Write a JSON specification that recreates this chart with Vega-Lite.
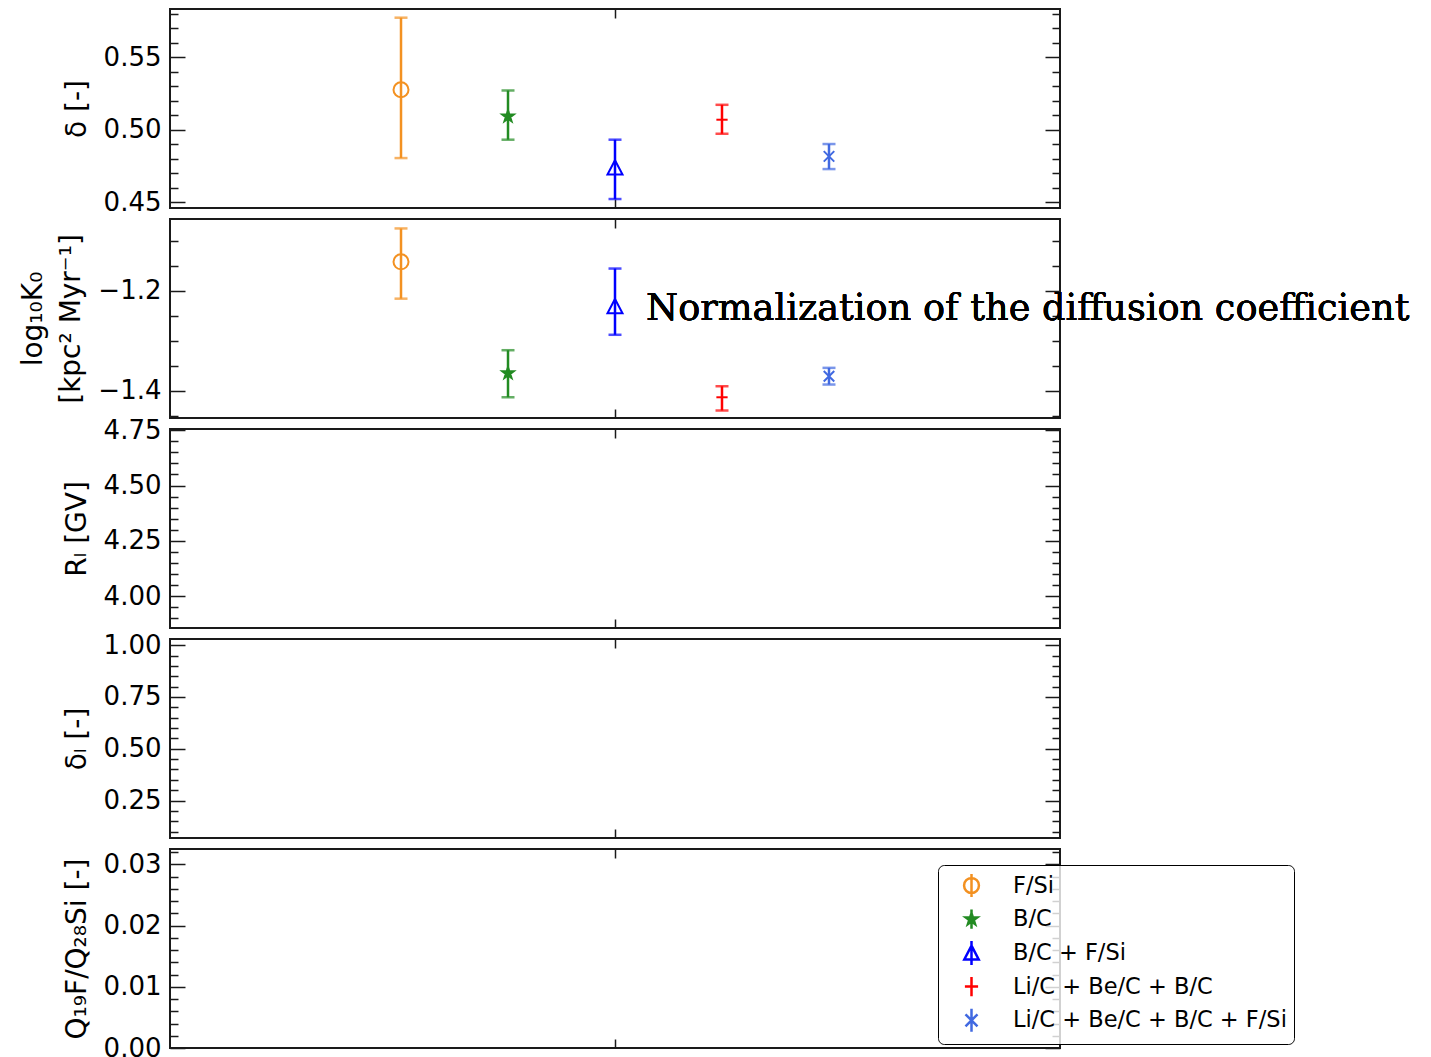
{
  "$schema": "https://vega.github.io/schema/vega-lite/v6.json",
  "autosize": {"type": "pad"},
  "padding": {"left": 18, "top": 7, "right": 5, "bottom": 0},
  "background": "white",
  "bounds": "flush",
  "spacing": 11,
  "datasets": {
    "pts": [
      {"series": "F/Si", "x": 1, "d": 0.5276, "dlo": 0.4804, "dhi": 0.5774, "k": -1.1424, "klo": -1.2161, "khi": -1.0755},
      {"series": "B/C", "x": 2, "d": 0.5092, "dlo": 0.4931, "dhi": 0.5271, "k": -1.3653, "klo": -1.4135, "khi": -1.3193},
      {"series": "B/C + F/Si", "x": 3, "d": 0.4740, "dlo": 0.4521, "dhi": 0.4931, "k": -1.2310, "klo": -1.2884, "khi": -1.1558},
      {"series": "Li/C + Be/C + B/C", "x": 4, "d": 0.5069, "dlo": 0.4972, "dhi": 0.5172, "k": -1.4135, "klo": -1.4400, "khi": -1.3914},
      {"series": "Li/C + Be/C + B/C + F/Si", "x": 5, "d": 0.4816, "dlo": 0.4728, "dhi": 0.4901, "k": -1.3713, "klo": -1.3880, "khi": -1.3546}
    ]
  },
  "config": {
    "view": {"stroke": "#1a1a1a", "strokeWidth": 2},
    "axis": {
      "grid": false, "domain": false, "labelFlush": false, "labelOverlap": false,
      "labelFont": "DejaVu Sans", "labelFontSize": 26, "labelColor": "#000",
      "titleFont": "DejaVu Sans", "titleFontSize": 28, "titleFontWeight": "normal", "titleColor": "#000",
      "tickColor": "#1a1a1a", "tickWidth": 1.5
    },
    "legend": {
      "orient": "none", "legendX": 768, "legendY": 16,
      "fillColor": "rgba(255,255,255,0.8)", "strokeColor": "#000", "cornerRadius": 6, "padding": 7,
      "symbolSize": 576, "symbolStrokeWidth": 2.5, "symbolOffset": 13, "symbolOpacity": 1,
      "labelFont": "DejaVu Sans", "labelFontSize": 22.5, "labelColor": "#000", "labelOffset": 28, "labelLimit": 500,
      "rowPadding": 0.7, "title": null
    }
  },
  "resolve": {
    "scale": {"stroke": "independent", "shape": "independent", "fill": "independent", "color": "independent"},
    "legend": {"stroke": "independent", "shape": "independent", "fill": "independent", "color": "independent"}
  },
  "vconcat": [
    {
      "width": 890, "height": 199,
      "data": {"name": "pts"},
      "resolve": {"axis": {"x": "independent", "y": "independent"}},
      "layer": [
        {
          "mark": {"type": "rule", "strokeWidth": 2.5, "strokeCap": "butt"},
          "encoding": {
            "x": {"field": "x", "type": "quantitative", "scale": {"domain": [-1.159, 7.159], "nice": false, "zero": false},
                  "axis": {"orient": "bottom", "values": [3], "labels": false, "title": null, "tickSize": -9}},
            "y": {"field": "dlo", "type": "quantitative", "scale": {"domain": [0.4459, 0.5834], "nice": false, "zero": false},
                  "axis": {"orient": "left", "values": [0.45, 0.5, 0.55], "format": ".2f", "title": "δ [-]", "tickSize": -15, "labelPadding": 24, "titlePadding": 12}},
            "y2": {"field": "dhi"},
            "stroke": {"field": "series", "type": "nominal", "legend": null,
                       "scale": {"domain": ["F/Si", "B/C", "B/C + F/Si", "Li/C + Be/C + B/C", "Li/C + Be/C + B/C + F/Si"], "range": ["#f39121", "#228b22", "#0000ff", "#ff0000", "#4169e1"]}}
          }
        },
        {
          "mark": {"type": "tick", "orient": "horizontal", "size": 13, "thickness": 2.5},
          "encoding": {
            "x": {"field": "x", "type": "quantitative", "scale": {"domain": [-1.159, 7.159], "nice": false, "zero": false},
                  "axis": {"orient": "top", "values": [3], "labels": false, "title": null, "tickSize": -9}},
            "y": {"field": "dhi", "type": "quantitative", "scale": {"domain": [0.4459, 0.5834], "nice": false, "zero": false},
                  "axis": {"orient": "left", "values": [0.46, 0.47, 0.48, 0.49, 0.51, 0.52, 0.53, 0.54, 0.56, 0.57, 0.58], "labels": false, "title": null, "tickSize": -8}},
            "color": {"field": "series", "type": "nominal", "legend": null,
                      "scale": {"domain": ["F/Si", "B/C", "B/C + F/Si", "Li/C + Be/C + B/C", "Li/C + Be/C + B/C + F/Si"], "range": ["#f39121", "#228b22", "#0000ff", "#ff0000", "#4169e1"]}}
          }
        },
        {
          "mark": {"type": "tick", "orient": "horizontal", "size": 13, "thickness": 2.5},
          "encoding": {
            "x": {"field": "x", "type": "quantitative", "axis": null},
            "y": {"field": "dlo", "type": "quantitative",
                  "axis": {"orient": "right", "values": [0.45, 0.5, 0.55], "labels": false, "title": null, "tickSize": -15}},
            "color": {"field": "series", "type": "nominal", "legend": null}
          }
        },
        {
          "mark": {"type": "point", "filled": false, "strokeWidth": 2, "size": 225, "opacity": 1},
          "encoding": {
            "x": {"field": "x", "type": "quantitative", "axis": null},
            "y": {"field": "d", "type": "quantitative",
                  "axis": {"orient": "right", "values": [0.46, 0.47, 0.48, 0.49, 0.51, 0.52, 0.53, 0.54, 0.56, 0.57, 0.58], "labels": false, "title": null, "tickSize": -8}},
            "stroke": {"field": "series", "type": "nominal", "legend": null},
            "fill": {"field": "series", "type": "nominal", "legend": null,
                     "scale": {"domain": ["F/Si", "B/C", "B/C + F/Si", "Li/C + Be/C + B/C", "Li/C + Be/C + B/C + F/Si"], "range": ["transparent", "#228b22", "transparent", "transparent", "transparent"]}},
            "shape": {"field": "series", "type": "nominal", "legend": null,
                      "scale": {"domain": ["F/Si", "B/C", "B/C + F/Si", "Li/C + Be/C + B/C", "Li/C + Be/C + B/C + F/Si"],
                                "range": ["circle", "M0,-0.8L0.182,-0.251L0.761,-0.247L0.295,0.096L0.47,0.647L0,0.31L-0.47,0.647L-0.295,0.096L-0.761,-0.247L-0.182,-0.251Z", "M0,-0.95L1,0.95L-1,0.95Z", "M-0.75,0L0.75,0", "M-0.7,-0.7L0.7,0.7M-0.7,0.7L0.7,-0.7"]}}
          }
        }
      ]
    },
    {
      "width": 890, "height": 199,
      "data": {"name": "pts"},
      "resolve": {"axis": {"x": "independent", "y": "independent"}},
      "layer": [
        {
          "mark": {"type": "rule", "strokeWidth": 2.5, "strokeCap": "butt"},
          "encoding": {
            "x": {"field": "x", "type": "quantitative", "scale": {"domain": [-1.159, 7.159], "nice": false, "zero": false},
                  "axis": {"orient": "bottom", "values": [3], "labels": false, "title": null, "tickSize": -9}},
            "y": {"field": "klo", "type": "quantitative", "scale": {"domain": [-1.455, -1.0566], "nice": false, "zero": false},
                  "axis": {"orient": "left", "values": [-1.4, -1.2], "format": ".1f", "title": ["log₁₀K₀", "[kpc² Myr⁻¹]"], "titleLineHeight": 38, "tickSize": -15, "labelPadding": 24, "titlePadding": 12}},
            "y2": {"field": "khi"},
            "stroke": {"field": "series", "type": "nominal", "legend": null,
                       "scale": {"domain": ["F/Si", "B/C", "B/C + F/Si", "Li/C + Be/C + B/C", "Li/C + Be/C + B/C + F/Si"], "range": ["#f39121", "#228b22", "#0000ff", "#ff0000", "#4169e1"]}}
          }
        },
        {
          "mark": {"type": "tick", "orient": "horizontal", "size": 13, "thickness": 2.5},
          "encoding": {
            "x": {"field": "x", "type": "quantitative", "scale": {"domain": [-1.159, 7.159], "nice": false, "zero": false},
                  "axis": {"orient": "top", "values": [3], "labels": false, "title": null, "tickSize": -9}},
            "y": {"field": "khi", "type": "quantitative", "scale": {"domain": [-1.455, -1.0566], "nice": false, "zero": false},
                  "axis": {"orient": "left", "values": [-1.45, -1.35, -1.3, -1.25, -1.15, -1.1], "labels": false, "title": null, "tickSize": -8}},
            "color": {"field": "series", "type": "nominal", "legend": null,
                      "scale": {"domain": ["F/Si", "B/C", "B/C + F/Si", "Li/C + Be/C + B/C", "Li/C + Be/C + B/C + F/Si"], "range": ["#f39121", "#228b22", "#0000ff", "#ff0000", "#4169e1"]}}
          }
        },
        {
          "mark": {"type": "tick", "orient": "horizontal", "size": 13, "thickness": 2.5},
          "encoding": {
            "x": {"field": "x", "type": "quantitative", "axis": null},
            "y": {"field": "klo", "type": "quantitative",
                  "axis": {"orient": "right", "values": [-1.4, -1.2], "labels": false, "title": null, "tickSize": -15}},
            "color": {"field": "series", "type": "nominal", "legend": null}
          }
        },
        {
          "mark": {"type": "point", "filled": false, "strokeWidth": 2, "size": 225, "opacity": 1},
          "encoding": {
            "x": {"field": "x", "type": "quantitative", "axis": null},
            "y": {"field": "k", "type": "quantitative",
                  "axis": {"orient": "right", "values": [-1.45, -1.35, -1.3, -1.25, -1.15, -1.1], "labels": false, "title": null, "tickSize": -8}},
            "stroke": {"field": "series", "type": "nominal", "legend": null},
            "fill": {"field": "series", "type": "nominal", "legend": null,
                     "scale": {"domain": ["F/Si", "B/C", "B/C + F/Si", "Li/C + Be/C + B/C", "Li/C + Be/C + B/C + F/Si"], "range": ["transparent", "#228b22", "transparent", "transparent", "transparent"]}},
            "shape": {"field": "series", "type": "nominal", "legend": null,
                      "scale": {"domain": ["F/Si", "B/C", "B/C + F/Si", "Li/C + Be/C + B/C", "Li/C + Be/C + B/C + F/Si"],
                                "range": ["circle", "M0,-0.8L0.182,-0.251L0.761,-0.247L0.295,0.096L0.47,0.647L0,0.31L-0.47,0.647L-0.295,0.096L-0.761,-0.247L-0.182,-0.251Z", "M0,-0.95L1,0.95L-1,0.95Z", "M-0.75,0L0.75,0", "M-0.7,-0.7L0.7,0.7M-0.7,0.7L0.7,-0.7"]}}
          }
        },
        {
          "mark": {"type": "text", "text": "Normalization of the diffusion coefficient", "font": "DejaVu Serif", "fontSize": 36.7, "align": "left", "baseline": "alphabetic", "color": "#000"},
          "encoding": {
            "x": {"datum": 3.29, "type": "quantitative", "axis": null},
            "y": {"datum": -1.2594, "type": "quantitative", "axis": null}
          }
        }
      ]
    },
    {
      "width": 890, "height": 199,
      "data": {"values": []},
      "resolve": {"axis": {"x": "independent", "y": "independent"}},
      "layer": [
        {
          "mark": "point",
          "encoding": {
            "x": {"field": "x", "type": "quantitative", "scale": {"domain": [-1.159, 7.159], "nice": false, "zero": false},
                  "axis": {"orient": "bottom", "values": [3], "labels": false, "title": null, "tickSize": -9}},
            "y": {"field": "rl", "type": "quantitative", "scale": {"domain": [3.857, 4.755], "nice": false, "zero": false},
                  "axis": {"orient": "left", "values": [4.0, 4.25, 4.5, 4.75], "format": ".2f", "title": "Rₗ [GV]", "tickSize": -15, "labelPadding": 24, "titlePadding": 12}}
          }
        },
        {
          "mark": "point",
          "encoding": {
            "x": {"field": "x", "type": "quantitative", "axis": {"orient": "top", "values": [3], "labels": false, "title": null, "tickSize": -9}},
            "y": {"field": "rl", "type": "quantitative",
                  "axis": {"orient": "left", "values": [3.9, 3.95, 4.05, 4.1, 4.15, 4.2, 4.3, 4.35, 4.4, 4.45, 4.55, 4.6, 4.65, 4.7], "labels": false, "title": null, "tickSize": -8}}
          }
        },
        {
          "mark": "point",
          "encoding": {
            "x": {"field": "x", "type": "quantitative", "axis": null},
            "y": {"field": "rl", "type": "quantitative", "axis": {"orient": "right", "values": [4.0, 4.25, 4.5, 4.75], "labels": false, "title": null, "tickSize": -15}}
          }
        },
        {
          "mark": "point",
          "encoding": {
            "x": {"field": "x", "type": "quantitative", "axis": null},
            "y": {"field": "rl", "type": "quantitative",
                  "axis": {"orient": "right", "values": [3.9, 3.95, 4.05, 4.1, 4.15, 4.2, 4.3, 4.35, 4.4, 4.45, 4.55, 4.6, 4.65, 4.7], "labels": false, "title": null, "tickSize": -8}}
          }
        }
      ]
    },
    {
      "width": 890, "height": 199,
      "data": {"values": []},
      "resolve": {"axis": {"x": "independent", "y": "independent"}},
      "layer": [
        {
          "mark": "point",
          "encoding": {
            "x": {"field": "x", "type": "quantitative", "scale": {"domain": [-1.159, 7.159], "nice": false, "zero": false},
                  "axis": {"orient": "bottom", "values": [3], "labels": false, "title": null, "tickSize": -9}},
            "y": {"field": "dl", "type": "quantitative", "scale": {"domain": [0.069, 1.03], "nice": false, "zero": false},
                  "axis": {"orient": "left", "values": [0.25, 0.5, 0.75, 1.0], "format": ".2f", "title": "δₗ [-]", "tickSize": -15, "labelPadding": 24, "titlePadding": 12}}
          }
        },
        {
          "mark": "point",
          "encoding": {
            "x": {"field": "x", "type": "quantitative", "axis": {"orient": "top", "values": [3], "labels": false, "title": null, "tickSize": -9}},
            "y": {"field": "dl", "type": "quantitative",
                  "axis": {"orient": "left", "values": [0.1, 0.15, 0.2, 0.3, 0.35, 0.4, 0.45, 0.55, 0.6, 0.65, 0.7, 0.8, 0.85, 0.9, 0.95], "labels": false, "title": null, "tickSize": -8}}
          }
        },
        {
          "mark": "point",
          "encoding": {
            "x": {"field": "x", "type": "quantitative", "axis": null},
            "y": {"field": "dl", "type": "quantitative", "axis": {"orient": "right", "values": [0.25, 0.5, 0.75, 1.0], "labels": false, "title": null, "tickSize": -15}}
          }
        },
        {
          "mark": "point",
          "encoding": {
            "x": {"field": "x", "type": "quantitative", "axis": null},
            "y": {"field": "dl", "type": "quantitative",
                  "axis": {"orient": "right", "values": [0.1, 0.15, 0.2, 0.3, 0.35, 0.4, 0.45, 0.55, 0.6, 0.65, 0.7, 0.8, 0.85, 0.9, 0.95], "labels": false, "title": null, "tickSize": -8}}
          }
        }
      ]
    },
    {
      "width": 890, "height": 199,
      "data": {"values": []},
      "resolve": {"axis": {"x": "independent", "y": "independent"}},
      "layer": [
        {
          "mark": {"type": "point", "filled": false, "opacity": 1},
          "encoding": {
            "x": {"field": "x", "type": "quantitative", "scale": {"domain": [-1.159, 7.159], "nice": false, "zero": false},
                  "axis": {"orient": "bottom", "values": [3], "labels": false, "title": null, "tickSize": -9}},
            "y": {"field": "q", "type": "quantitative", "scale": {"domain": [0, 0.0325], "nice": false, "zero": false},
                  "axis": {"orient": "left", "values": [0, 0.01, 0.02, 0.03], "format": ".2f", "title": "Q₁₉F/Q₂₈Si  [-]", "tickSize": -15, "labelPadding": 24, "titlePadding": 12}},
            "stroke": {"field": "series", "type": "nominal", "legend": {},
                       "scale": {"domain": ["F/Si", "B/C", "B/C + F/Si", "Li/C + Be/C + B/C", "Li/C + Be/C + B/C + F/Si"], "range": ["#f39121", "#228b22", "#0000ff", "#ff0000", "#4169e1"]}},
            "fill": {"field": "series", "type": "nominal", "legend": {},
                     "scale": {"domain": ["F/Si", "B/C", "B/C + F/Si", "Li/C + Be/C + B/C", "Li/C + Be/C + B/C + F/Si"], "range": ["transparent", "#228b22", "transparent", "transparent", "transparent"]}},
            "shape": {"field": "series", "type": "nominal", "legend": {},
                      "scale": {"domain": ["F/Si", "B/C", "B/C + F/Si", "Li/C + Be/C + B/C", "Li/C + Be/C + B/C + F/Si"],
                                "range": [
                                  "M0,-0.96L0,0.96M-0.62,0A0.62,0.62 0 1,0 0.62,0A0.62,0.62 0 1,0 -0.62,0",
                                  "M0,-0.8L0,0.8M0,-0.5L0.114,-0.157L0.476,-0.154L0.184,0.06L0.294,0.404L0,0.194L-0.294,0.404L-0.184,0.06L-0.476,-0.154L-0.114,-0.157Z",
                                  "M0,-1L0,1M0,-0.6L0.6,0.55L-0.6,0.55Z",
                                  "M0,-0.8L0,0.8M-0.55,0L0.55,0",
                                  "M0,-0.96L0,0.96M-0.5,-0.5L0.5,0.5M-0.5,0.5L0.5,-0.5"
                                ]}}
          }
        },
        {
          "mark": "point",
          "encoding": {
            "x": {"field": "x", "type": "quantitative", "axis": {"orient": "top", "values": [3], "labels": false, "title": null, "tickSize": -9}},
            "y": {"field": "q", "type": "quantitative",
                  "axis": {"orient": "left", "values": [0.002, 0.004, 0.006, 0.008, 0.012, 0.014, 0.016, 0.018, 0.022, 0.024, 0.026, 0.028, 0.032], "labels": false, "title": null, "tickSize": -8}}
          }
        },
        {
          "mark": "point",
          "encoding": {
            "x": {"field": "x", "type": "quantitative", "axis": null},
            "y": {"field": "q", "type": "quantitative", "axis": {"orient": "right", "values": [0, 0.01, 0.02, 0.03], "labels": false, "title": null, "tickSize": -15}}
          }
        },
        {
          "mark": "point",
          "encoding": {
            "x": {"field": "x", "type": "quantitative", "axis": null},
            "y": {"field": "q", "type": "quantitative",
                  "axis": {"orient": "right", "values": [0.002, 0.004, 0.006, 0.008, 0.012, 0.014, 0.016, 0.018, 0.022, 0.024, 0.026, 0.028, 0.032], "labels": false, "title": null, "tickSize": -8}}
          }
        }
      ]
    }
  ]
}
